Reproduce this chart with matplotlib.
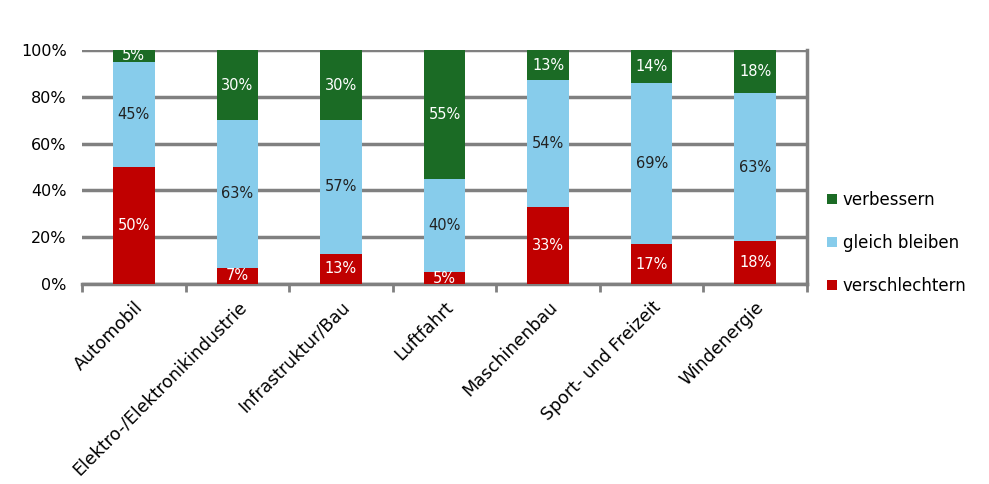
import matplotlib.pyplot as plt
import numpy as np

plt.rcParams['font.family'] = ['DejaVu Sans']

categories = ['Automobil', 'Elektro-/Elektronikindustrie', 'Infrastruktur/Bau',
              'Luftfahrt', 'Maschinenbau', 'Sport- und Freizeit', 'Windenergie']
verschlechtern = [50, 7, 13, 5, 33, 17, 18]
gleich_bleiben = [45, 63, 57, 40, 54, 69, 63]
verbessern = [5, 30, 30, 55, 13, 14, 18]

red = '#C00000'
blue = '#87CCEB'
green = '#1B6B25'

fig = plt.figure(figsize=(9.89, 4.84), dpi=100)
ax = fig.add_axes([82 / 989, 1 - 284 / 484, (807 - 82) / 989, (284 - 50) / 484])

r = np.array(verschlechtern, float)
g = np.array(gleich_bleiben, float)
v = np.array(verbessern, float)
tot = r + g + v
rn, gn, vn = r / tot, g / tot, v / tot

x = np.arange(len(categories))
w = 0.4
ax.bar(x, vn, w, bottom=rn + gn, color=green, label='verbessern', zorder=3)
ax.bar(x, gn, w, bottom=rn, color=blue, label='gleich bleiben', zorder=3)
ax.bar(x, rn, w, color=red, label='verschlechtern', zorder=3)

fs = 10.5
for i in x:
    ax.text(i, rn[i] / 2, f'{verschlechtern[i]}%', ha='center', va='center',
            color='white', fontsize=fs, zorder=4)
    ax.text(i, rn[i] + gn[i] / 2, f'{gleich_bleiben[i]}%', ha='center', va='center',
            color='#222222', fontsize=fs, zorder=4)
    ax.text(i, rn[i] + gn[i] + vn[i] / 2, f'{verbessern[i]}%', ha='center', va='center',
            color='white', fontsize=fs, zorder=4)

ax.set_xlim(-0.5, len(categories) - 0.5)
ax.set_ylim(0, 1)
ax.set_yticks(np.linspace(0, 1, 6))
ax.set_yticklabels([f'{int(t)}%' for t in np.linspace(0, 100, 6)], fontsize=11.5)
ax.yaxis.grid(True, color='#808080', linewidth=2.5, zorder=0)
ax.tick_params(axis='y', length=0, pad=11)

ax.set_xticks(np.arange(len(categories) + 1) - 0.5, minor=True)
ax.set_xticks(x)
ax.set_xticklabels(categories, rotation=45, ha='right', rotation_mode='anchor', fontsize=12.5)
ax.tick_params(axis='x', which='major', length=0, pad=10)
ax.tick_params(axis='x', which='minor', length=6, width=2, color='#808080')

for s in ['top', 'left']:
    ax.spines[s].set_visible(False)
ax.spines['right'].set_color('#808080')
ax.spines['right'].set_linewidth(2.5)
ax.spines['bottom'].set_color('#808080')
ax.spines['bottom'].set_linewidth(2.5)

handles, labels = ax.get_legend_handles_labels()
fig.legend(handles, labels, loc='center left', bbox_to_anchor=(812 / 989, 1 - 243 / 484),
           frameon=False, fontsize=12, handlelength=0.6, handleheight=0.6,
           handletextpad=0.35, labelspacing=1.5)

fig.savefig('out.png', dpi=100)
